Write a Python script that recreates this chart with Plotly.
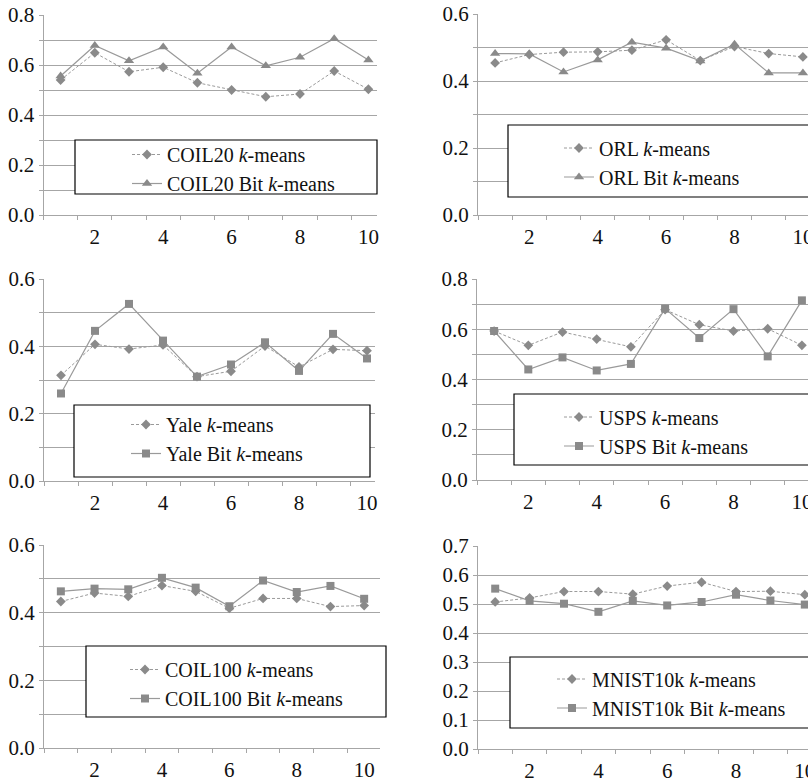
import plotly.graph_objects as go

W, H = 808, 784
x_cat = list(range(1, 11))
x_tick_vals = [2, 4, 6, 8, 10]
x_tick_text = ["2", "4", "6", "8", "10"]

coil20_km = [0.540, 0.649, 0.573, 0.591, 0.529, 0.500, 0.473, 0.484, 0.576, 0.503]
coil20_bit = [0.556, 0.678, 0.617, 0.672, 0.567, 0.672, 0.597, 0.631, 0.705, 0.620]
orl_km = [0.454, 0.479, 0.486, 0.487, 0.492, 0.523, 0.461, 0.503, 0.482, 0.472]
orl_bit = [0.482, 0.481, 0.427, 0.463, 0.516, 0.498, 0.460, 0.510, 0.424, 0.424]
yale_km = [0.314, 0.406, 0.392, 0.404, 0.310, 0.326, 0.401, 0.339, 0.391, 0.387]
yale_bit = [0.260, 0.446, 0.526, 0.417, 0.310, 0.346, 0.412, 0.327, 0.437, 0.364]
usps_km = [0.593, 0.536, 0.589, 0.561, 0.530, 0.678, 0.618, 0.593, 0.602, 0.536]
usps_bit = [0.593, 0.440, 0.488, 0.436, 0.462, 0.682, 0.565, 0.680, 0.492, 0.715]
coil100_km = [0.433, 0.458, 0.448, 0.480, 0.463, 0.413, 0.442, 0.442, 0.418, 0.421]
coil100_bit = [0.463, 0.471, 0.469, 0.503, 0.474, 0.419, 0.495, 0.461, 0.479, 0.441]
mnist_km = [0.507, 0.521, 0.543, 0.543, 0.534, 0.562, 0.575, 0.543, 0.544, 0.532]
mnist_bit = [0.553, 0.511, 0.501, 0.473, 0.511, 0.495, 0.507, 0.532, 0.512, 0.498]

names = ["COIL20", "ORL", "Yale", "USPS", "COIL100", "MNIST10k"]
km_series = [coil20_km, orl_km, yale_km, usps_km, coil100_km, mnist_km]
bit_series = [coil20_bit, orl_bit, yale_bit, usps_bit, coil100_bit, mnist_bit]
bit_symbols = ["triangle-up", "triangle-up", "square", "square", "square", "square"]
y_max = [0.8, 0.6, 0.6, 0.8, 0.6, 0.7]
y_major = [0.2, 0.2, 0.2, 0.2, 0.2, 0.1]

# layout geometry in pixels (plot areas, legend boxes)
dom_px = [((43.5, 377), (15, 215)), ((478, 808), (14, 215)),
          ((44, 375), (279, 481)), ((477, 808), (279, 480)),
          ((44, 380), (545, 748)), ((478, 808), (546, 749))]
x_spacing = [34.2, 34.2, 34.0, 34.2, 33.7, 34.4]
leg_box = [(75, 140, 377, 194), (508, 125, 812, 197),
           (74, 405, 370, 477), (514, 394, 812, 465),
           (86, 646, 386, 717), (510, 657, 812, 728)]
leg_text = [(167, 169.5), (599, 163), (166, 439.5), (599, 432), (165, 684.5), (592, 694)]

FONT = "Liberation Serif, Times New Roman, serif"
GRID = "#a6a6a6"
LINE = "#9a9a9a"
MARK = "#8a8a8a"

fig = go.Figure()
layout = dict(width=W, height=H, margin=dict(l=0, r=0, t=0, b=0, autoexpand=False),
              paper_bgcolor="white", plot_bgcolor="white", showlegend=True,
              font=dict(family=FONT, color="#111111", size=20))
shapes = []

for i in range(6):
    sfx = "" if i == 0 else str(i + 1)
    xa, ya = "x" + sfx, "y" + sfx
    leg = "legend" + sfx
    fig.add_trace(go.Scatter(
        x=x_cat, y=km_series[i], xaxis=xa, yaxis=ya, mode="lines+markers",
        name=names[i] + " <i>k</i>-means", legend=leg,
        line=dict(color=LINE, width=1, dash="3px,2px"),
        marker=dict(symbol="diamond", size=7.5, color=MARK)))
    fig.add_trace(go.Scatter(
        x=x_cat, y=bit_series[i], xaxis=xa, yaxis=ya, mode="lines+markers",
        name=names[i] + " Bit <i>k</i>-means", legend=leg,
        line=dict(color=LINE, width=1.2),
        marker=dict(symbol=bit_symbols[i], size=9 if bit_symbols[i] == "triangle-up" else 8,
                    color=MARK)))
    (x0, x1), (y0, y1) = dom_px[i]
    x_hi = 0.5 + (x1 - x0) / x_spacing[i]
    layout["xaxis" + sfx] = dict(
        domain=[x0 / W, x1 / W], anchor=ya, range=[0.5, x_hi], automargin=False,
        tickmode="array", tickvals=x_tick_vals, ticktext=x_tick_text,
        ticks="outside", ticklen=5, tickcolor="rgba(0,0,0,0)",
        ticklabelstandoff=-2, ticklabeloverflow="allow",
        showgrid=False, zeroline=False, showline=True, linecolor=GRID, linewidth=1,
        minor=dict(tick0=0.5, dtick=1, ticks="outside", ticklen=4, tickcolor=GRID,
                   showgrid=False),
        tickfont=dict(size=21, family=FONT, color="#111111"), fixedrange=True)
    minor = dict(dtick=0.1, showgrid=True, gridcolor=GRID, gridwidth=1,
                 ticks="outside", ticklen=4, tickcolor=GRID) if y_major[i] == 0.2 else None
    yd = dict(
        domain=[1 - y1 / H, 1 - y0 / H], anchor=xa, range=[0, y_max[i]], automargin=False,
        dtick=y_major[i], tick0=0, tickformat=".1f",
        ticks="outside", ticklen=4, tickcolor=GRID, ticklabelstandoff=0,
        ticklabeloverflow="allow",
        showgrid=True, gridcolor=GRID, gridwidth=1,
        zeroline=False, showline=True, linecolor=GRID, linewidth=1,
        tickfont=dict(size=21, family=FONT, color="#111111"), fixedrange=True)
    if minor:
        yd["minor"] = minor
    layout["yaxis" + sfx] = yd
    bx0, by0, bx1, by1 = leg_box[i]
    shapes.append(dict(type="rect", xref="paper", yref="paper",
                       x0=bx0 / W, x1=bx1 / W, y0=1 - by1 / H, y1=1 - by0 / H,
                       line=dict(color="black", width=1.2), fillcolor="white",
                       layer="above"))
    tx, tmid = leg_text[i]
    layout[leg] = dict(x=(tx - 40) / W, y=1 - (tmid - 34.5) / H, xanchor="left", yanchor="top",
                       bgcolor="rgba(0,0,0,0)", borderwidth=0,
                       font=dict(family=FONT, size=20, color="#111111"),
                       tracegroupgap=0, itemwidth=30)

layout["shapes"] = shapes
fig.update_layout(**layout)
fig.write_html("out.html", config={"displayModeBar": False},
               post_script="document.body.style.margin='0px';document.body.style.overflow='hidden';")
